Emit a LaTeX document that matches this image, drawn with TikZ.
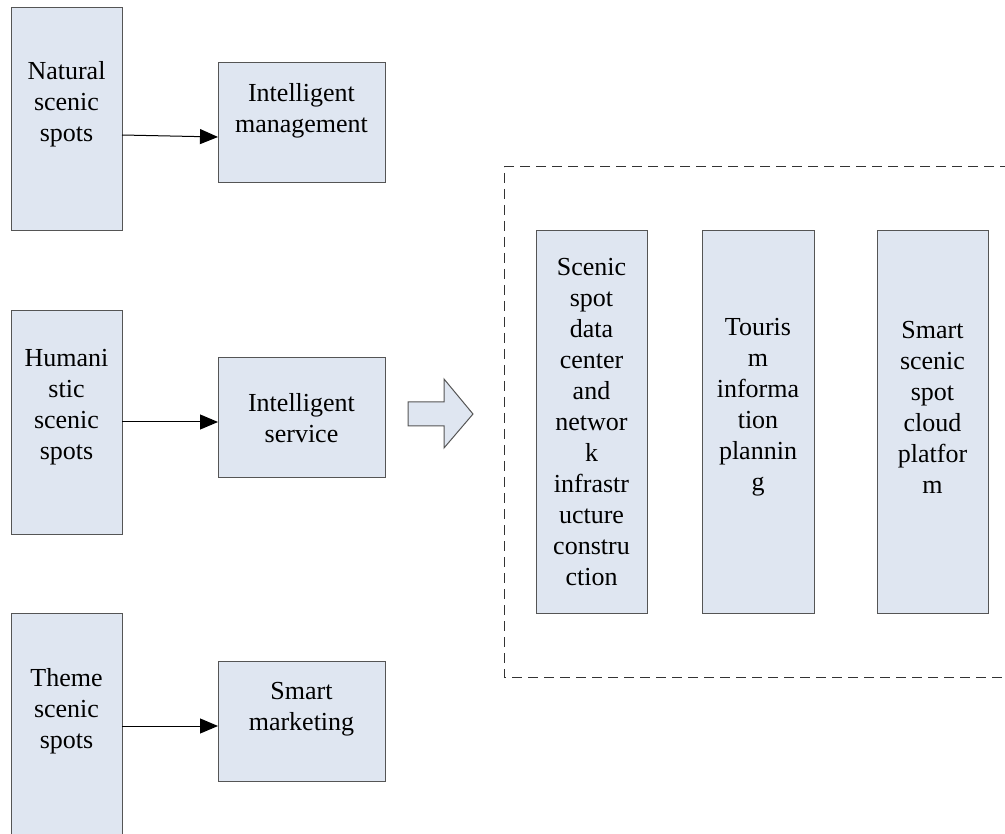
\documentclass[tikz,border=0pt]{standalone}
\usepackage{fontspec}
\setmainfont{Liberation Serif}
\usetikzlibrary{arrows.meta}
\definecolor{boxfill}{RGB}{223,230,241}
\definecolor{boxline}{RGB}{85,85,85}
\tikzset{
  box/.style={draw=boxline, fill=boxfill, line width=1pt, anchor=north west, inner sep=0pt, outer sep=0pt},
  txt/.style={font=\fontsize{26}{31}\selectfont, align=center, inner sep=0pt, text=black},
  arr/.style={draw=black, line width=1pt, -{Triangle[length=18pt,width=15pt]}},
  dashbox/.style={draw=black!80, line width=1pt, dash pattern=on 10pt off 6pt},
  bigarrow/.style={draw=boxline, fill=boxfill, line width=1pt, line join=miter}
}
\begin{document}
\begin{tikzpicture}[x=1pt,y=-1pt]
\useasboundingbox (0,0) rectangle (1005,834);
\clip (0,0) rectangle (1005,834);
% left column
\node[box, minimum width=111pt, minimum height=223pt] (nat) at (11,8) {};
\node[box, minimum width=111pt, minimum height=223pt] (hum) at (11,311) {};
\node[box, minimum width=111pt, minimum height=240pt] (thm) at (11,613) {};
\node[txt] (natt) at (66.5,104) {Natural\\scenic\\spots};
\node[txt] (humt) at (66.5,407) {Humani\\stic\\scenic\\spots};
\node[txt] (thmt) at (66.5,711) {Theme\\scenic\\spots};
% middle column
\node[box, minimum width=167pt, minimum height=120pt] (im) at (218,63) {};
\node[box, minimum width=167pt, minimum height=120pt] (is) at (218,358) {};
\node[box, minimum width=167pt, minimum height=120pt] (sm) at (218,661) {};
\node[txt] (imt) at (301.5,111) {Intelligent\\management};
\node[txt] (ist) at (301.5,418) {Intelligent\\service};
\node[txt] (smt) at (301.5,709) {Smart\\marketing};
% connectors
\draw[arr] (nat.east |- 0,135) -- (im.west |- 0,137);
\draw[arr] (hum.east |- 0,422) -- (is.west |- 0,422);
\draw[arr] (thm.east |- 0,726) -- (sm.west |- 0,726);
% big hollow arrow
\draw[bigarrow] (408,402) -- (444,402) -- (444,379) -- (473,414) -- (444,448) -- (444,426) -- (408,426) -- cycle;
% dashed frame
\coordinate (dtr) at (1010,167);
\coordinate (dtl) at (504,167);
\coordinate (dbl) at (504,677);
\coordinate (dbr) at (1010,677);
\draw[dashbox] (dtr) -- (dtl) -- (dbl) -- (dbr);
% right boxes
\node[box, minimum width=111pt, minimum height=382pt] (ba) at (536,231) {};
\node[box, minimum width=112pt, minimum height=382pt] (bb) at (702,231) {};
\node[box, minimum width=111pt, minimum height=382pt] (bc) at (877,231) {};
\node[txt] (bat) at (591.5,422) {Scenic\\spot\\data\\center\\and\\networ\\k\\infrastr\\ucture\\constru\\ction};
\node[txt] (bbt) at (758,407.5) {Touris\\m\\informa\\tion\\plannin\\g};
\node[txt] (bct) at (932.5,407.5) {Smart\\scenic\\spot\\cloud\\platfor\\m};
\end{tikzpicture}
\end{document}
